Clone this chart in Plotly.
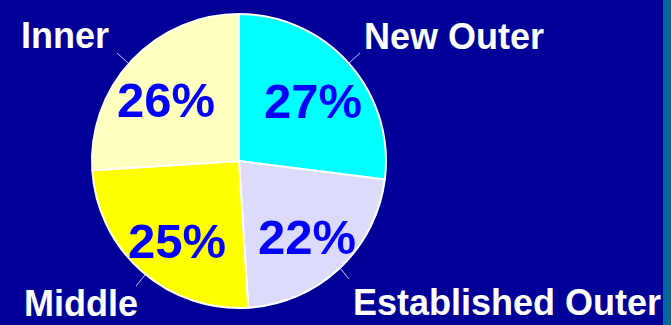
import plotly.graph_objects as go

# Share of the total by zone
zones = ["New Outer", "Established Outer", "Middle", "Inner"]
shares = [27, 22, 25, 26]
slice_colors = ["#00FFFF", "#DCDCFA", "#FFFF00", "#FFFFBF"]

W, H = 671, 325
BG = "#000099"
FONT = "Liberation Sans, Arial, sans-serif"

# Zone name labels outside the pie: (x px, y px, yanchor)
name_pos = [(362, 37, "middle"), (351, 302, "middle"), (22, 326, "bottom"), (19, 36, "middle")]
# Percentage label centres inside each slice (px)
pct_pos = [(313, 101), (307, 237), (177, 241), (166, 100)]
# Leader ticks from the name label to the rim (px)
leaders = [
    ((360, 53), (349, 63)),
    ((349, 279), (340, 268)),
    ((136, 286), (145, 275)),
    ((117, 53), (128, 63)),
]


def px(x):
    return x / W


def py(y):
    return 1 - y / H


cx, cy, r = 239, 161, 147

fig = go.Figure(
    go.Pie(
        labels=zones,
        values=shares,
        sort=False,
        direction="clockwise",
        rotation=0,
        marker=dict(colors=slice_colors, line=dict(color="white", width=2)),
        textinfo="none",
        hoverinfo="label+percent",
        showlegend=False,
        domain=dict(x=[px(cx - r), px(cx + r)], y=[py(cy + r), py(cy - r)]),
    )
)

for zone, value, (nx, ny, nya), (tx, ty) in zip(zones, shares, name_pos, pct_pos):
    fig.add_annotation(
        text=zone, x=px(nx), y=py(ny), xref="paper", yref="paper",
        xanchor="left", yanchor=nya, showarrow=False,
        font=dict(family=FONT, size=36, color="white", weight="bold"),
    )
    fig.add_annotation(
        text=f"{value}%", x=px(tx), y=py(ty), xref="paper", yref="paper",
        xanchor="center", yanchor="middle", showarrow=False,
        font=dict(family=FONT, size=49, color="#0000FF", weight="bold"),
    )

for (x0, y0), (x1, y1) in leaders:
    fig.add_shape(type="line", xref="paper", yref="paper",
                  x0=px(x0), y0=py(y0), x1=px(x1), y1=py(y1),
                  line=dict(color="#C8C8F0", width=1))

# Slide edge strip on the right
fig.add_shape(type="rect", xref="paper", yref="paper",
              x0=px(663), x1=1, y0=0, y1=1, line=dict(width=0),
              fillcolor="#006A9A", layer="above")

fig.update_layout(
    width=W, height=H,
    margin=dict(l=0, r=0, t=0, b=0),
    paper_bgcolor=BG, plot_bgcolor=BG,
)

fig.write_html("out.html")
